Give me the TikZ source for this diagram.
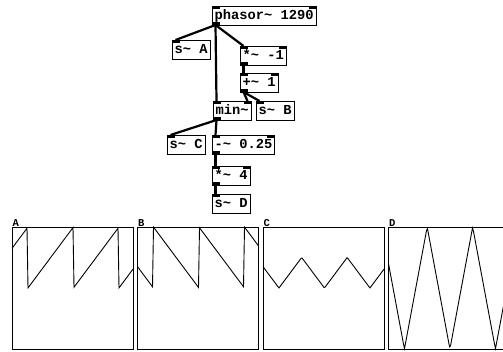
\documentclass[tikz,border=0pt]{standalone}
\usepackage{fontspec}
\newfontfamily\pdfont{Liberation Mono}
\usetikzlibrary{calc}
\newcommand\pdinl[1]{\fill ($(#1.north west)+(0.5,0.5)$) rectangle ++(7,2.5);}
\newcommand\pdinr[1]{\fill ($(#1.north east)+(-7.5,0.5)$) rectangle ++(7,2.5);}
\newcommand\pdout[1]{\fill ($(#1.south west)+(0.5,-0.5)$) rectangle ++(7,-2.5);}
\begin{document}
\begin{tikzpicture}[x=1pt,y=-1pt,
  obj/.style={draw, line width=1pt, rectangle, anchor=north west, inner xsep=2.5pt, inner ysep=0pt,
    minimum height=19pt, text height=9.5pt, text depth=2.5pt, outer sep=0pt,
    font=\pdfont\bfseries\fontsize{13.75}{14}\selectfont},
  conn/.style={line width=2.2pt},
  frame/.style={line width=1pt},
  wave/.style={line width=0.9pt, line join=miter},
  glabel/.style={anchor=base west, inner sep=0pt, font=\pdfont\bfseries\fontsize{10.5}{11}\selectfont},
  declare function={ph(\t)=\t/45.5+0.65-floor(\t/45.5+0.65);}
]
\useasboundingbox (0,0) rectangle (503,351);
\clip (0,0) rectangle (503,351);

% objects
\node[obj] (phasor) at (212,6) {phasor\textasciitilde{} 1290};
\node[obj] (sA) at (172,40) {s\textasciitilde{} A};
\node[obj] (mul1) at (240,46) {*\textasciitilde{} -1};
\node[obj] (add1) at (240,73) {+\textasciitilde{} 1};
\node[obj] (min) at (213,101) {min\textasciitilde};
\node[obj] (sB) at (256,101) {s\textasciitilde{} B};
\node[obj] (sC) at (167,135) {s\textasciitilde{} C};
\node[obj] (sub) at (212,135) {-\textasciitilde{} 0.25};
\node[obj] (mul4) at (212,166) {*\textasciitilde{} 4};
\node[obj] (sD) at (212,194) {s\textasciitilde{} D};

% inlets / outlets
\pdinl{phasor}\pdinr{phasor}\pdout{phasor}
\pdinl{sA}
\pdinl{mul1}\pdinr{mul1}\pdout{mul1}
\pdinl{add1}\pdinr{add1}\pdout{add1}
\pdinl{min}\pdinr{min}\pdout{min}
\pdinl{sB}\pdinl{sC}\pdinl{sD}
\pdinl{sub}\pdinr{sub}\pdout{sub}
\pdinl{mul4}\pdinr{mul4}\pdout{mul4}

% connections
\draw[conn] ($(phasor.south west)+(3.5,0)$) -- ($(sA.north west)+(3.5,0)$);
\draw[conn] ($(phasor.south west)+(3.5,0)$) -- ($(mul1.north west)+(3.5,0)$);
\draw[conn] ($(phasor.south west)+(3.5,0)$) -- ($(min.north west)+(3.5,0)$);
\draw[conn] ($(mul1.south west)+(3.5,0)$) -- ($(add1.north west)+(3.5,0)$);
\draw[conn] ($(add1.south west)+(3.5,0)$) -- ($(min.north east)+(-3.5,0)$);
\draw[conn] ($(add1.south west)+(3.5,0)$) -- ($(sB.north west)+(3.5,0)$);
\draw[conn] ($(min.south west)+(3.5,0)$) -- ($(sC.north west)+(3.5,0)$);
\draw[conn] ($(min.south west)+(3.5,0)$) -- ($(sub.north west)+(3.5,0)$);
\draw[conn] ($(sub.south west)+(3.5,0)$) -- ($(mul4.north west)+(3.5,0)$);
\draw[conn] ($(mul4.south west)+(3.5,0)$) -- ($(sD.north west)+(3.5,0)$);

% graphs
\draw[frame] (12,227) rectangle ++(121,122);
\draw[frame] (137.5,227) rectangle ++(121,122);
\draw[frame] (263,227) rectangle ++(121,122);
\draw[frame] (388.5,227) rectangle ++(121,122);
\node[glabel] (lA) at (12.5,226.5) {A};
\node[glabel] (lB) at (138,226.5) {B};
\node[glabel] (lC) at (263.5,226.5) {C};
\node[glabel] (lD) at (389,226.5) {D};

\begin{scope}[shift={(12,288)}]
\draw[wave] plot[domain=0:121,samples=122] (\x,{-61*ph(\x)});
\end{scope}
\begin{scope}[shift={(137.5,288)}]
\draw[wave] plot[domain=0:121,samples=122] (\x,{-61*(1-ph(\x))});
\end{scope}
\begin{scope}[shift={(263,288)}]
\draw[wave] plot[domain=0:121,samples=122] (\x,{-61*min(ph(\x),1-ph(\x))});
\end{scope}
\begin{scope}[shift={(388.5,288)}]
\draw[wave] plot[domain=0:121,samples=122] (\x,{-61*(4*min(ph(\x),1-ph(\x))-1)});
\end{scope}
\end{tikzpicture}
\end{document}
